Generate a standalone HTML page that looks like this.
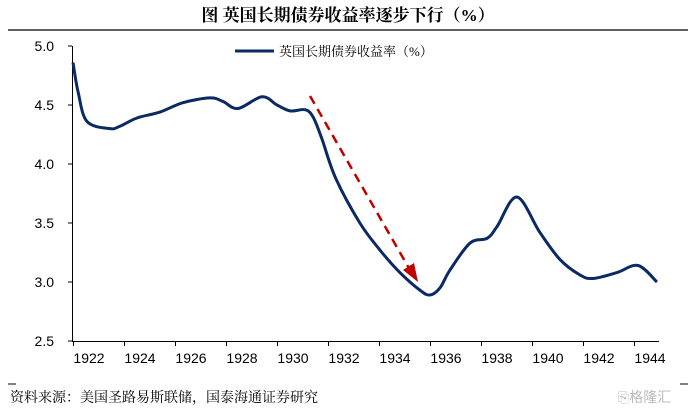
<!DOCTYPE html>
<html><head><meta charset="utf-8">
<style>
body{margin:0;background:#fff;width:696px;height:411px;overflow:hidden;font-family:"Liberation Sans","Noto Sans CJK SC",sans-serif;}
svg text{font-family:"Liberation Sans","Noto Sans CJK SC",sans-serif;}
svg text.serif{font-family:"Liberation Serif","Noto Serif CJK SC",serif;}
</style></head>
<body>
<svg id="chart" width="696" height="411" xmlns="http://www.w3.org/2000/svg">
<text class="serif" x="348" y="21" text-anchor="middle" font-size="17" font-weight="bold" fill="#000">图  英国长期债券收益率逐步下行（%）</text>
<line x1="8" y1="30" x2="688" y2="30" stroke="#000" stroke-width="1.2"/>
<g id="axes"></g>
<g id="series"></g>
<line x1="235" y1="51" x2="274" y2="51" stroke="#0b2a63" stroke-width="3"/>
<text class="serif" x="279" y="56" font-size="13" fill="#000">英国长期债券收益率（%）</text>
<line x1="310" y1="96" x2="410" y2="270" stroke="#c00000" stroke-width="2.5" stroke-dasharray="9,6"/>
<polygon points="418,282 403,270 414,263" fill="#c00000"/>
<line x1="8" y1="384" x2="16" y2="384" stroke="#000"/>
<line x1="680" y1="384" x2="688" y2="384" stroke="#000"/>
<text class="serif" x="10" y="402" font-size="14" fill="#000">资料来源：美国圣路易斯联储，国泰海通证券研究</text>
<text x="618" y="402" font-size="14" fill="#bbb">⎘格隆汇</text>
</svg>
<script>
const years=[1922,1922.2,1922.55,1923.45,1923.84,1924.51,1925.41,1926.31,1927.37,1927.88,1928.47,1929.41,1930,1930.51,1931.1,1931.41,1931.75,1932.3,1933.25,1934.04,1934.82,1935.61,1936,1936.39,1936.78,1937.57,1938.24,1938.63,1939.41,1940.31,1941.1,1941.88,1942.39,1943.33,1944.16,1944.9];
const yields=[4.86,4.61,4.36,4.30,4.32,4.39,4.44,4.52,4.56,4.53,4.47,4.57,4.50,4.45,4.46,4.40,4.22,3.88,3.50,3.27,3.08,2.93,2.89,2.95,3.10,3.33,3.37,3.47,3.72,3.42,3.19,3.06,3.03,3.08,3.14,3.00];
const yTicks=[2.5,3.0,3.5,4.0,4.5,5.0];
const xTicks=[1922,1924,1926,1928,1930,1932,1934,1936,1938,1940,1942,1944];
const NS='http://www.w3.org/2000/svg';
function X(t){return 73+(t-1922)*25.5;}
function Y(v){return 341-(v-2.5)*118;}
const axes=document.getElementById('axes');
function mk(tag,attrs,parent){const e=document.createElementNS(NS,tag);for(const k in attrs)e.setAttribute(k,attrs[k]);parent.appendChild(e);return e;}
const ya=mk('line',{x1:72.5,y1:Y(5),x2:72.5,y2:Y(2.5),stroke:'#000','stroke-width':1},axes);


const xa=mk('line',{x1:72,y1:341.5,x2:659,y2:341.5,stroke:'#000','stroke-width':1},axes);


yTicks.forEach(v=>{
  const tk=mk('line',{x1:68,y1:Y(v),x2:72,y2:Y(v),stroke:'#000'},axes);
  
  
  const t=mk('text',{x:54,y:Y(v)+5,'font-size':14,'text-anchor':'end',fill:'#000'},axes);
  t.textContent=v.toFixed(1);
  
  
});
xTicks.forEach(yr=>{
  const tk=mk('line',{x1:X(yr)+0.5,y1:341,x2:X(yr)+0.5,y2:346,stroke:'#000'},axes);
  
  
  const t=mk('text',{x:X(yr)+16,y:363,'font-size':14,'text-anchor':'middle',fill:'#000'},axes);
  t.textContent=yr;
  
  
});
const pts=years.map((t,i)=>[X(t),Y(yields[i])]);
let d='M'+pts[0][0]+','+pts[0][1];
for(let i=0;i<pts.length-1;i++){
  const p0=pts[Math.max(0,i-1)],p1=pts[i],p2=pts[i+1],p3=pts[Math.min(pts.length-1,i+2)];
  const c1=[p1[0]+(p2[0]-p0[0])/6,p1[1]+(p2[1]-p0[1])/6];
  const c2=[p2[0]-(p3[0]-p1[0])/6,p2[1]-(p3[1]-p1[1])/6];
  d+=' C'+c1[0]+','+c1[1]+' '+c2[0]+','+c2[1]+' '+p2[0]+','+p2[1];
}
const line=mk('path',{d:d,fill:'none',stroke:'#0b2a63','stroke-width':3,'stroke-linejoin':'round'},document.getElementById('series'));


</script>
</body></html>
